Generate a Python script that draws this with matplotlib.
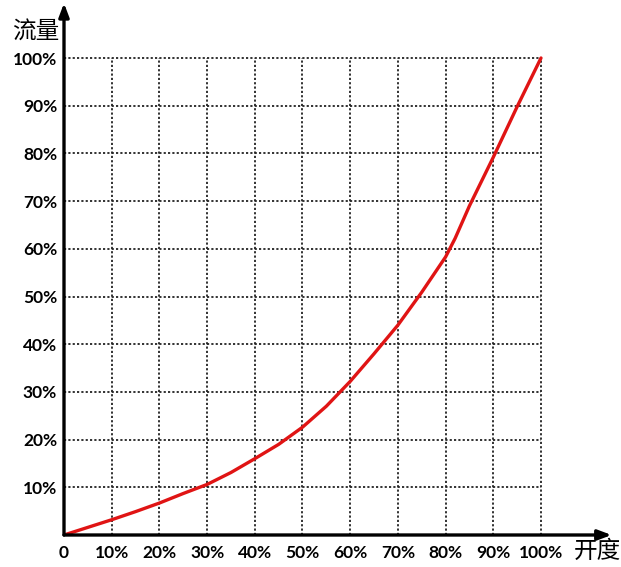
import matplotlib.pyplot as plt
import numpy as np

# opening (%) vs flow (%)
opening = [0, 5, 10, 15, 20, 25, 30, 35, 40, 45, 50, 55, 60, 65, 70, 75, 80, 82, 85, 90, 95, 100]
flow = [0, 1.6, 3.2, 4.9, 6.7, 8.7, 10.6, 13.1, 16.0, 19.0, 22.6, 27.0, 32.2, 38.0, 44.0, 50.9, 58.3, 62.2, 69.0, 79.2, 89.8, 100]

tick_values = [0, 10, 20, 30, 40, 50, 60, 70, 80, 90, 100]
x_labels = ['0', '10%', '20%', '30%', '40%', '50%', '60%', '70%', '80%', '90%', '100%']
y_labels = ['', '10%', '20%', '30%', '40%', '50%', '60%', '70%', '80%', '90%', '100%']

W, H = 621, 567
fig = plt.figure(figsize=(W / 100, H / 100), dpi=100)

# axes box in pixels: origin at (64, 535), 100% at (541, 58)
x0, y0 = 64, 535
unit = 4.77
x_max = 114.8
y_max = 111.5
ax = fig.add_axes([x0 / W, (H - y0) / H, x_max * unit / W, y_max * unit / H])
ax.set_xlim(0, x_max)
ax.set_ylim(0, y_max)
for s in ax.spines.values():
	s.set_visible(False)

# dotted grid
ax.vlines(tick_values[1:], 0, 100, colors='#222222', linestyles=(0, (1.2, 1.2)), linewidth=1.3)
ax.hlines(tick_values[1:], 0, 100, colors='#222222', linestyles=(0, (1.2, 1.2)), linewidth=1.3)

ax.plot(opening, flow, color='#e01414', linewidth=2.4, solid_capstyle='round',
	solid_joinstyle='round', zorder=3)

# axes with arrows
ax.annotate('', xy=(x_max, 0), xytext=(0, 0),
	arrowprops=dict(arrowstyle='-|>,head_length=0.8,head_width=0.3', color='black', lw=2.4, shrinkA=0, shrinkB=0),
	annotation_clip=False)
ax.annotate('', xy=(0, y_max), xytext=(0, 0),
	arrowprops=dict(arrowstyle='-|>,head_length=0.8,head_width=0.3', color='black', lw=2.4, shrinkA=0, shrinkB=0),
	annotation_clip=False)

ax.set_xticks(tick_values)
ax.set_xticklabels(x_labels)
ax.set_yticks(tick_values)
ax.set_yticklabels(y_labels)
ax.tick_params(axis='x', length=0, pad=7)
ax.tick_params(axis='y', length=0, pad=5)
for lab in ax.get_xticklabels() + ax.get_yticklabels():
	lab.set_fontfamily(['Lato', 'DejaVu Sans'])
	lab.set_fontweight('bold')
	lab.set_fontsize(12.5)

fig.text(36 / W, 1 - 32 / H, '流量', fontsize=17, family=['Noto Sans CJK SC', 'DejaVu Sans'],
	ha='center', va='center')
fig.text(597 / W, 1 - 551 / H, '开度', fontsize=17, family=['Noto Sans CJK SC', 'DejaVu Sans'],
	ha='center', va='center')

fig.savefig('out.png', dpi=100)
